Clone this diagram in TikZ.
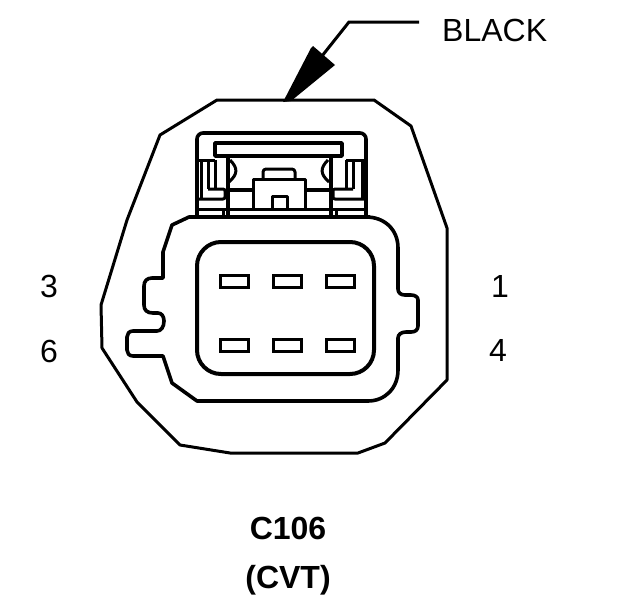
\documentclass[tikz,border=0pt]{standalone}
\usepackage{fontspec}
\setmainfont{Liberation Sans}
\tikzset{
  wire/.style={line width=3pt,line join=round},
  thick wire/.style={line width=3.6pt,line join=round},
  pinslot/.style={draw,line width=3pt,minimum width=28pt,minimum height=12pt,inner sep=0pt},
  pinlabel/.style={font=\fontsize{32}{32}\selectfont,inner sep=0pt},
  title/.style={font=\fontsize{32}{32}\selectfont\bfseries,inner sep=0pt}
}
\begin{document}
\begin{tikzpicture}[x=1pt,y=-1pt]
  \useasboundingbox (0,0) rectangle (624,600);
  % outer body
  \draw[wire] (217,100) -- (374,100) -- (411,126) -- (447,228) -- (447,380)
    -- (385,443) -- (358,453) -- (230,453) -- (180,445) -- (137,402)
    -- (102,348) -- (101,305) -- (127,220) -- (160,135) -- cycle;
  % housing
  \draw[thick wire] (189,217) -- (172,225) -- (163,252) -- (163,278) -- (152,278)
    .. controls (147,278) and (144,281) .. (144,286) -- (144,305)
    .. controls (144,310) and (147,313) .. (153,313) -- (158,313)
    .. controls (162,313) and (164,317) .. (164,321)
    .. controls (164,327) and (161,331) .. (157,331) -- (133,331)
    .. controls (129,331) and (127,334) .. (127,337) -- (127,350)
    .. controls (127,353) and (129,356) .. (133,356) -- (163,356)
    -- (172,383) -- (197,401) -- (368,401)
    .. controls (385,401) and (398,388) .. (398,370) -- (398,338)
    .. controls (398,334) and (402,332) .. (406,332) -- (411,332)
    .. controls (415,332) and (418,330) .. (418,326) -- (418,300)
    .. controls (418,297) and (415,295) .. (411,295) -- (405,295)
    .. controls (401,295) and (398,293) .. (398,289) -- (398,248)
    .. controls (398,230) and (385,217) .. (366,217) -- cycle;
  % window and pins
  \draw[thick wire,line width=4pt,rounded corners=24pt] (197,242) rectangle (374,374);
  \foreach \col/\xpos in {a/234,b/287,c/340}
    \foreach \row/\ypos in {t/281,u/345}
      \node[pinslot] (pin\col\row) at (\xpos,\ypos) {};
  % latch
  \draw[thick wire,rounded corners=6pt] (197,217) -- (197,133) -- (366,133) -- (366,217);
  \draw[thick wire] (215,143) rectangle (342,156);
  \draw[line width=3.4pt] (228,156) -- (228,217) (331,156) -- (331,217);
  \draw[wire] (197,209) -- (366,209) (223,209) -- (223,217) (336,209) -- (336,217);
  \draw[thick wire] (228,190) -- (253,190) (305,190) -- (331,190);
  \draw[wire] (253,209) -- (253,179) -- (305,179) -- (305,209);
  \draw[wire,rounded corners=3pt] (263,179) -- (263,169) -- (295,169) -- (295,179);
  \draw[wire] (272,209) -- (272,196) -- (287,196) -- (287,209);
  \draw[wire] (230,160) .. controls (238,168) and (238,174) .. (229,182);
  \draw[wire] (328,160) .. controls (320,168) and (320,174) .. (329,182);
  % left clip
  \draw[wire] (197,160) -- (215,160) (201,160) -- (201,199) (208,160) -- (208,189) (215,160) -- (215,189);
  \draw[wire,rounded corners=2pt] (208,189) -- (225,189) -- (225,199) -- (197,199);
  % right clip
  \draw[wire] (346,160) -- (366,160) (362,160) -- (362,199) (353,160) -- (353,189) (346,160) -- (346,189);
  \draw[wire,rounded corners=2pt] (353,189) -- (333,189) -- (333,199) -- (366,199);
  \draw[line width=4pt] (190,217) -- (370,217);
  % arrow
  \coordinate (arrowend) at (419,22);
  \coordinate (arrowbend) at (349,22);
  \coordinate (arrowtip) at (283,102);
  \draw[line width=3pt] (arrowend) -- (arrowbend) -- (322,56);
  \fill[line join=round] (arrowtip) -- (311,48) -- (313,46) -- (335,65) -- (291,101) -- cycle;
  % labels
  \node[pinlabel,anchor=west] (black) at (442,30) {BLACK};
  \node[pinlabel] (three) at (49,286) {3};
  \node[pinlabel] (six) at (49,351) {6};
  \node[pinlabel] (one) at (500,286) {1};
  \node[pinlabel] (four) at (498,350) {4};
  \node[title] (conn) at (288,528) {C106};
  \node[title] (cvt) at (288,580) {(CVT)};
\end{tikzpicture}
\end{document}
